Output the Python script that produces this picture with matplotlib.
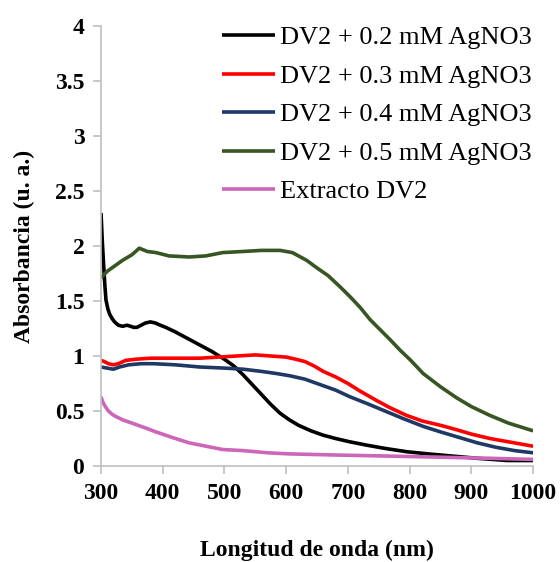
#!/usr/bin/env python3
import matplotlib
matplotlib.use('Agg')
import numpy as np
import matplotlib.pyplot as plt
from matplotlib.ticker import FuncFormatter

plt.rcParams['font.family'] = ['Liberation Serif', 'DejaVu Serif']

# wavelength (nm) and absorbance
wl_02 = [300, 302, 304, 306, 308, 311, 314, 318, 322, 328, 335, 342, 348, 353, 358, 365, 372, 380, 388,
         396, 405, 420, 440, 460, 480, 500, 515, 530, 545, 560, 575, 590, 605, 620, 640, 660, 680, 703,
         730, 760, 795, 830, 870, 910, 958, 1000]
abs_02 = [2.30, 2.05, 1.85, 1.66, 1.51, 1.43, 1.38, 1.34, 1.31, 1.28, 1.27, 1.28, 1.27, 1.26, 1.26, 1.28,
          1.30, 1.31, 1.30, 1.28, 1.26, 1.22, 1.16, 1.10, 1.04, 0.97, 0.91, 0.83, 0.74, 0.65, 0.56, 0.48,
          0.42, 0.37, 0.32, 0.28, 0.25, 0.22, 0.19, 0.16, 0.13, 0.11, 0.09, 0.07, 0.05, 0.05]

wl_03 = [300, 305, 312, 320, 328, 340, 355, 380, 420, 460, 490, 520, 550, 575, 600, 616, 630, 645, 660,
         680, 700, 720, 745, 768, 795, 820, 850, 876, 900, 930, 960, 1000]
abs_03 = [0.96, 0.95, 0.93, 0.92, 0.93, 0.96, 0.97, 0.98, 0.98, 0.98, 0.99, 1.00, 1.01, 1.00, 0.99, 0.97,
          0.95, 0.91, 0.86, 0.81, 0.75, 0.68, 0.60, 0.53, 0.46, 0.41, 0.37, 0.33, 0.29, 0.25, 0.22, 0.18]

wl_04 = [300, 310, 320, 330, 345, 365, 385, 420, 460, 500, 530, 560, 585, 606, 630, 655, 680, 703, 730,
         760, 790, 822, 850, 880, 910, 940, 970, 1000]
abs_04 = [0.90, 0.89, 0.88, 0.90, 0.92, 0.93, 0.93, 0.92, 0.90, 0.89, 0.88, 0.86, 0.84, 0.82, 0.79, 0.74,
          0.69, 0.63, 0.57, 0.50, 0.43, 0.36, 0.31, 0.26, 0.21, 0.17, 0.14, 0.12]

wl_05 = [300, 310, 320, 335, 350, 362, 375, 389, 410, 443, 470, 497, 530, 560, 590, 610, 633, 650, 668,
         687, 705, 720, 736, 752, 768, 785, 800, 822, 850, 876, 900, 930, 960, 1000]
abs_05 = [1.71, 1.77, 1.81, 1.87, 1.92, 1.98, 1.95, 1.94, 1.91, 1.90, 1.91, 1.94, 1.95, 1.96, 1.96, 1.94,
          1.87, 1.80, 1.73, 1.63, 1.53, 1.44, 1.33, 1.24, 1.15, 1.05, 0.97, 0.84, 0.72, 0.62, 0.54, 0.46,
          0.39, 0.32]

wl_ext = [300, 303, 307, 312, 318, 324, 335, 350, 370, 389, 415, 443, 470, 497, 530, 570, 606, 680, 768,
          850, 930, 1000]
abs_ext = [0.63, 0.58, 0.54, 0.50, 0.47, 0.45, 0.42, 0.39, 0.35, 0.31, 0.26, 0.21, 0.18, 0.15, 0.14, 0.12,
           0.11, 0.10, 0.09, 0.08, 0.07, 0.06]

series = [
    (wl_02, abs_02, "DV2 + 0.2 mM AgNO3", "#000000"),
    (wl_03, abs_03, "DV2 + 0.3 mM AgNO3", "#FF0000"),
    (wl_04, abs_04, "DV2 + 0.4 mM AgNO3", "#1F3864"),
    (wl_05, abs_05, "DV2 + 0.5 mM AgNO3", "#375623"),
    (wl_ext, abs_ext, "Extracto DV2", "#CC66B8"),
]

fig = plt.figure(figsize=(5.6, 5.62), dpi=100)
ax = fig.add_axes([0.1804, 0.1708, 0.7716, 0.7830])

for x, y, label, color in series:
    ax.plot(x, y, color=color, lw=2.6, label=label, solid_capstyle='butt', solid_joinstyle='round')

ax.set_xlim(300, 1000)
ax.set_ylim(0, 4)
ax.set_xticks(np.arange(300, 1001, 100))
ax.set_yticks(np.arange(0, 4.01, 0.5))
ax.yaxis.set_major_formatter(FuncFormatter(lambda v, p: "%g" % v))

for side in ['top', 'right']:
    ax.spines[side].set_visible(False)
for side in ['left', 'bottom']:
    ax.spines[side].set_color('#BFBFBF')
    ax.spines[side].set_linewidth(1.2)
ax.tick_params(direction='out', length=6, width=1.2, color='#BFBFBF', labelsize=17, pad=6)
for lab in ax.get_xticklabels() + ax.get_yticklabels():
    lab.set_fontweight('bold')

ax.set_xlabel("Longitud de onda (nm)", fontsize=17, fontweight='bold', labelpad=26)
ax.set_ylabel("Absorbancia (u. a.)", fontsize=17, fontweight='bold', labelpad=14)

ax.legend(loc='upper right', bbox_to_anchor=(1.022, 1.024), frameon=False, fontsize=19,
          handlelength=2.0, handletextpad=0.2, labelspacing=0.57, borderaxespad=0)

plt.savefig("out.png", dpi=100)
